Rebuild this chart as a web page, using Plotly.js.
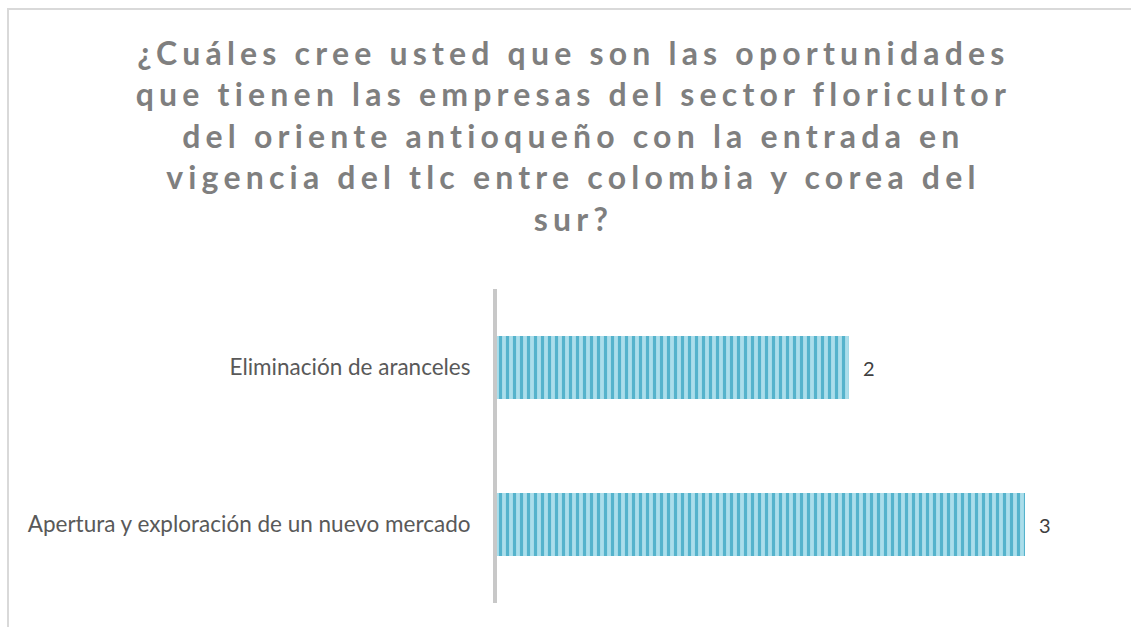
<!DOCTYPE html>
<html>
<head>
<meta charset="utf-8">
<script src="https://cdn.plot.ly/plotly-3.0.1.min.js"></script>
<style>
  html, body { margin: 0; padding: 0; overflow: hidden; background: #ffffff; }
  #wrap { position: relative; width: 1131px; height: 627px; overflow: hidden; }
  #frame { position: absolute; left: 7px; top: 8px; width: 1200px; height: 700px;
           border: 2px solid #d9d9d9; box-sizing: border-box; pointer-events: none; z-index: 2; }
  #chart { position: absolute; left: 0; top: 0; width: 1131px; height: 627px; }
  .gtitle { letter-spacing: 5.2px; }
</style>
</head>
<body>
<div id="wrap">
  <div id="chart"></div>
  <div id="frame"></div>
</div>
<script>
// Data (bottom to top)
const categories = ["Apertura y exploración de un nuevo mercado", "Eliminación de aranceles"];
const values = [3, 2];
const titleText = "¿Cuáles cree usted que son las oportunidades<br>que tienen las empresas del sector floricultor<br>del oriente antioqueño con la entrada en<br>vigencia del tlc entre colombia y corea del<br>sur?";

const trace = {
  type: 'bar',
  orientation: 'h',
  y: categories,
  x: values,
  marker: {
    color: '#8fd0e2',
    line: { width: 0 },
    pattern: { shape: '|', fgcolor: '#55b3cc', bgcolor: '#abdeeb', size: 7, solidity: 0.45 }
  },
  hoverinfo: 'none'
};

const annotations = categories.map((c, i) => ({
  x: values[i], y: c, xref: 'x', yref: 'y',
  text: String(values[i]), showarrow: false,
  xanchor: 'left', xshift: 12,
  font: { family: 'Lato, sans-serif', size: 20, color: '#404040' }
}));

const layout = {
  width: 1131, height: 627,
  margin: { l: 497, r: 18, t: 289, b: 24 },
  paper_bgcolor: '#ffffff', plot_bgcolor: '#ffffff',
  showlegend: false,
  bargap: 0.6,
  title: {
    text: titleText,
    x: 0.507, xanchor: 'center', xref: 'container',
    y: 0.897, yanchor: 'top', yref: 'container',
    font: { family: 'Lato, sans-serif', size: 32, color: '#7f7f7f', weight: 'bold' }
  },
  xaxis: { range: [0, 3.5], visible: false, fixedrange: true },
  yaxis: {
    type: 'category',
    showline: true, linecolor: '#c8c8c8', linewidth: 4,
    showgrid: false, zeroline: false, ticks: '',
    ticklabelstandoff: 18,
    tickfont: { family: 'Lato, sans-serif', size: 22.5, color: '#595959' },
    fixedrange: true
  },
  annotations: annotations
};

Plotly.newPlot('chart', [trace], layout, { displayModeBar: false, staticPlot: true });
</script>
</body>
</html>
